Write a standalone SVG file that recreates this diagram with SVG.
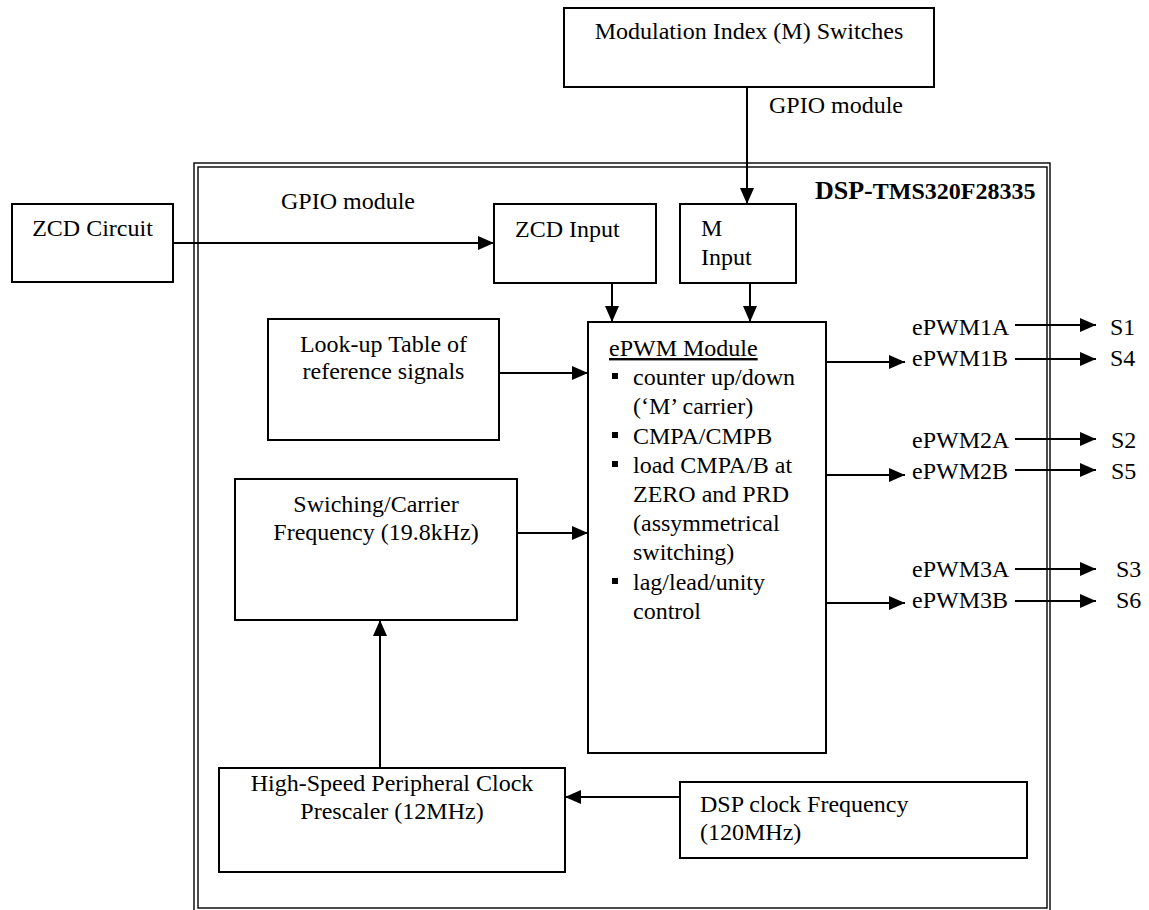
<svg xmlns="http://www.w3.org/2000/svg" width="1149" height="910" viewBox="0 0 1149 910">
  <style>
    .box { fill: #fff; stroke: #000; stroke-width: 2; }
    .frame { fill: none; stroke: #000; stroke-width: 1.4; }
    .t { font-family: "Liberation Serif", "Times New Roman", serif; font-size: 24px; fill: #000; }
    .mid { text-anchor: middle; }
    .title { font-family: "Liberation Serif", "Times New Roman", serif; font-weight: bold; fill: #000; }
    .wire { fill: none; stroke: #000; stroke-width: 2; marker-end: url(#arrow); }
    .bullet { fill: #000; }
  </style>
  <defs>
    <marker id="arrow" viewBox="0 0 16 14" refX="16" refY="7" markerWidth="16" markerHeight="14" markerUnits="userSpaceOnUse" orient="auto">
      <path d="M0,0 L16,7 L0,14 z" fill="#000"/>
    </marker>
  </defs>

  <rect width="1149" height="910" fill="#fff"/>

  <!-- DSP boundary (double frame) -->
  <g id="dsp-frame">
    <rect class="frame" x="194" y="163" width="856" height="752"/>
    <rect class="frame" x="198" y="167" width="849" height="741"/>
    <text class="title" x="815" y="199"><tspan font-size="26">DSP-</tspan><tspan font-size="24">TMS320F28335</tspan></text>
  </g>

  <g id="mod-switches">
    <rect class="box" x="564" y="8" width="370" height="79"/>
    <text class="t mid" x="749" y="39">Modulation Index (M) Switches</text>
  </g>

  <g id="zcd-circuit">
    <rect class="box" x="12" y="204" width="161" height="78"/>
    <text class="t mid" x="92.5" y="236">ZCD Circuit</text>
  </g>

  <g id="zcd-input">
    <rect class="box" x="494" y="204" width="162" height="79"/>
    <text class="t" x="515" y="237">ZCD Input</text>
  </g>

  <g id="m-input">
    <rect class="box" x="680" y="204" width="116" height="79"/>
    <text class="t" x="701" y="236">M</text>
    <text class="t" x="701" y="265">Input</text>
  </g>

  <g id="lookup-table">
    <rect class="box" x="268" y="319" width="231" height="121"/>
    <text class="t mid" x="383.5" y="352">Look-up Table of</text>
    <text class="t mid" x="383.5" y="379">reference signals</text>
  </g>

  <g id="carrier-freq">
    <rect class="box" x="235" y="479" width="282" height="141"/>
    <text class="t mid" x="376" y="512">Swiching/Carrier</text>
    <text class="t mid" x="376" y="540">Frequency (19.8kHz)</text>
  </g>

  <g id="epwm-module">
    <rect class="box" x="588" y="322" width="238" height="431"/>
    <text class="t" x="609" y="356" text-decoration="underline">ePWM Module</text>
    <rect class="bullet" x="612" y="373" width="6" height="6"/>
    <text class="t" x="633" y="385">counter up/down</text>
    <text class="t" x="633" y="414">(‘M’ carrier)</text>
    <rect class="bullet" x="612" y="432" width="6" height="6"/>
    <text class="t" x="633" y="444">CMPA/CMPB</text>
    <rect class="bullet" x="612" y="461" width="6" height="6"/>
    <text class="t" x="633" y="473">load CMPA/B at</text>
    <text class="t" x="633" y="502">ZERO and PRD</text>
    <text class="t" x="633" y="531">(assymmetrical</text>
    <text class="t" x="633" y="560">switching)</text>
    <rect class="bullet" x="612" y="578" width="6" height="6"/>
    <text class="t" x="633" y="590">lag/lead/unity</text>
    <text class="t" x="633" y="619">control</text>
  </g>

  <g id="hspclk-prescaler">
    <rect class="box" x="219" y="768" width="346" height="104"/>
    <text class="t mid" x="392" y="791">High-Speed Peripheral Clock</text>
    <text class="t mid" x="392" y="819">Prescaler (12MHz)</text>
  </g>

  <g id="dsp-clock">
    <rect class="box" x="680" y="782" width="347" height="76"/>
    <text class="t" x="700" y="812">DSP clock Frequency</text>
    <text class="t" x="700" y="840">(120MHz)</text>
  </g>

  <!-- PWM output channels -->
  <g id="pwm-outputs">
    <text class="t" x="912" y="335">ePWM1A</text>
    <text class="t" x="912" y="366">ePWM1B</text>
    <text class="t" x="1110" y="335">S1</text>
    <text class="t" x="1110" y="366">S4</text>
    <text class="t" x="912" y="448">ePWM2A</text>
    <text class="t" x="912" y="479">ePWM2B</text>
    <text class="t" x="1111" y="448">S2</text>
    <text class="t" x="1111" y="479">S5</text>
    <text class="t" x="912" y="577">ePWM3A</text>
    <text class="t" x="912" y="608">ePWM3B</text>
    <text class="t" x="1116" y="577">S3</text>
    <text class="t" x="1116" y="608">S6</text>
  </g>

  <!-- link labels -->
  <g id="labels">
    <text class="t" x="769" y="113">GPIO module</text>
    <text class="t" x="281" y="209">GPIO module</text>
  </g>

  <g id="connectors">
    <line class="wire" x1="747" y1="87" x2="747" y2="204"/>
    <line class="wire" x1="173" y1="243" x2="494" y2="243"/>
    <line class="wire" x1="612" y1="283" x2="612" y2="322"/>
    <line class="wire" x1="750" y1="283" x2="750" y2="322"/>
    <line class="wire" x1="499" y1="373" x2="588" y2="373"/>
    <line class="wire" x1="517" y1="533" x2="588" y2="533"/>
    <line class="wire" x1="380" y1="768" x2="380" y2="620"/>
    <line class="wire" x1="680" y1="797" x2="565" y2="797"/>
    <line class="wire" x1="826" y1="362" x2="905" y2="362"/>
    <line class="wire" x1="826" y1="475" x2="905" y2="475"/>
    <line class="wire" x1="826" y1="603" x2="905" y2="603"/>
    <line class="wire" x1="1015" y1="325" x2="1096" y2="325"/>
    <line class="wire" x1="1015" y1="359" x2="1096" y2="359"/>
    <line class="wire" x1="1015" y1="439" x2="1096" y2="439"/>
    <line class="wire" x1="1015" y1="470" x2="1096" y2="470"/>
    <line class="wire" x1="1015" y1="569" x2="1096" y2="569"/>
    <line class="wire" x1="1015" y1="601" x2="1096" y2="601"/>
  </g>
</svg>
